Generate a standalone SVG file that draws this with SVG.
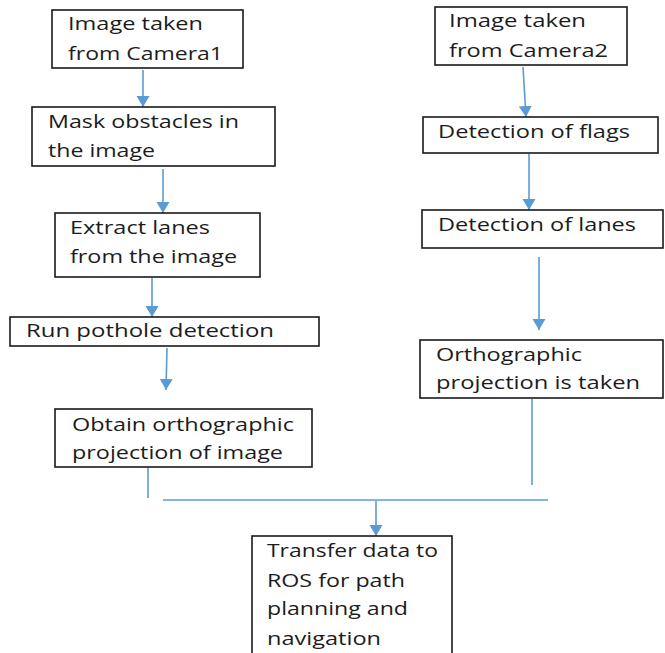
<svg xmlns="http://www.w3.org/2000/svg" width="665" height="653" viewBox="0 0 665 653">
  <style>
    .box { fill: #ffffff; stroke: #1a1a1a; stroke-width: 1.6; }
    .lbl { font-family: "Open Sans", "Liberation Sans", sans-serif; font-size: 18.5px; fill: #1c1c1c; }
    .wire { fill: none; stroke: #5b9bd5; stroke-width: 1.6; }
    .arrow { marker-end: url(#head); }
  </style>
  <defs>
    <marker id="head" markerUnits="userSpaceOnUse" markerWidth="14" markerHeight="14" refX="11" refY="6.5" orient="auto">
      <path d="M0,0 L11,6.5 L0,13 z" fill="#5b9bd5"/>
    </marker>
  </defs>
  <rect width="665" height="653" fill="#ffffff"/>

  <!-- connectors -->
  <g id="connectors">
    <path class="wire arrow" d="M143,70 L143,107"/>
    <path class="wire arrow" d="M163,169 L163,213"/>
    <path class="wire arrow" d="M152,278 L152,317"/>
    <path class="wire arrow" d="M167,348 L166,390"/>
    <path class="wire" d="M148,468 L148,498"/>
    <path class="wire arrow" d="M523,67 L526,117"/>
    <path class="wire arrow" d="M529,154 L529,210"/>
    <path class="wire arrow" d="M539,257 L539,330"/>
    <path class="wire" d="M532,399 L532,485"/>
    <path class="wire" d="M163,500 L548,500"/>
    <path class="wire arrow" d="M376,501 L376,536"/>
  </g>

  <!-- left column -->
  <g id="cam1">
    <rect class="box" x="52" y="10" width="191" height="58"/>
    <text class="lbl" x="68" y="30" textLength="135" lengthAdjust="spacingAndGlyphs">Image taken</text>
    <text class="lbl" x="68" y="60" textLength="155" lengthAdjust="spacingAndGlyphs">from Camera1</text>
  </g>
  <g id="mask">
    <rect class="box" x="32" y="107" width="243" height="59"/>
    <text class="lbl" x="48" y="128" textLength="191" lengthAdjust="spacingAndGlyphs">Mask obstacles in</text>
    <text class="lbl" x="48" y="157" textLength="107" lengthAdjust="spacingAndGlyphs">the image</text>
  </g>
  <g id="extract">
    <rect class="box" x="55" y="213" width="205" height="64"/>
    <text class="lbl" x="70" y="234" textLength="140" lengthAdjust="spacingAndGlyphs">Extract lanes</text>
    <text class="lbl" x="70" y="263" textLength="167" lengthAdjust="spacingAndGlyphs">from the image</text>
  </g>
  <g id="pothole">
    <rect class="box" x="10" y="317" width="309" height="29"/>
    <text class="lbl" x="26" y="337" textLength="248" lengthAdjust="spacingAndGlyphs">Run pothole detection</text>
  </g>
  <g id="ortho1">
    <rect class="box" x="55" y="409" width="257" height="58"/>
    <text class="lbl" x="72" y="431" textLength="222" lengthAdjust="spacingAndGlyphs">Obtain orthographic</text>
    <text class="lbl" x="72" y="459" textLength="211" lengthAdjust="spacingAndGlyphs">projection of image</text>
  </g>

  <!-- right column -->
  <g id="cam2">
    <rect class="box" x="435" y="7" width="192" height="58"/>
    <text class="lbl" x="449" y="27" textLength="137" lengthAdjust="spacingAndGlyphs">Image taken</text>
    <text class="lbl" x="449" y="57" textLength="159" lengthAdjust="spacingAndGlyphs">from Camera2</text>
  </g>
  <g id="flags">
    <rect class="box" x="423" y="117" width="235" height="36"/>
    <text class="lbl" x="438" y="138" textLength="192" lengthAdjust="spacingAndGlyphs">Detection of flags</text>
  </g>
  <g id="lanes">
    <rect class="box" x="422" y="210" width="241" height="38"/>
    <text class="lbl" x="438" y="231" textLength="198" lengthAdjust="spacingAndGlyphs">Detection of lanes</text>
  </g>
  <g id="ortho2">
    <rect class="box" x="420" y="340" width="243" height="58"/>
    <text class="lbl" x="436" y="361" textLength="146" lengthAdjust="spacingAndGlyphs">Orthographic</text>
    <text class="lbl" x="436" y="389" textLength="204" lengthAdjust="spacingAndGlyphs">projection is taken</text>
  </g>

  <!-- merge target -->
  <g id="ros">
    <rect class="box" x="252" y="536" width="200" height="130"/>
    <text class="lbl" x="267" y="557" textLength="171" lengthAdjust="spacingAndGlyphs">Transfer data to</text>
    <text class="lbl" x="267" y="587" textLength="138" lengthAdjust="spacingAndGlyphs">ROS for path</text>
    <text class="lbl" x="267" y="615" textLength="141" lengthAdjust="spacingAndGlyphs">planning and</text>
    <text class="lbl" x="267" y="645" textLength="114" lengthAdjust="spacingAndGlyphs">navigation</text>
  </g>
</svg>
